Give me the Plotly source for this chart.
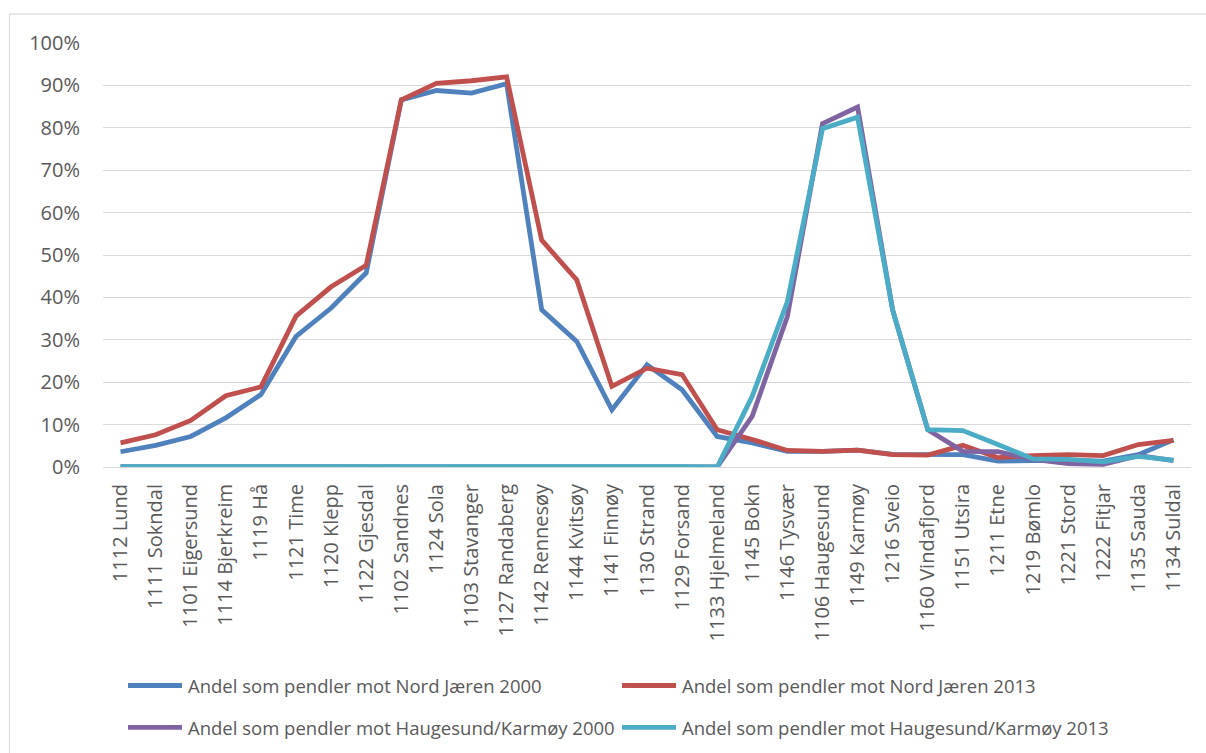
import plotly.graph_objects as go

# Municipalities along the category axis
kommuner = [
    "1112 Lund", "1111 Sokndal", "1101 Eigersund", "1114 Bjerkreim", "1119 Hå",
    "1121 Time", "1120 Klepp", "1122 Gjesdal", "1102 Sandnes", "1124 Sola",
    "1103 Stavanger", "1127 Randaberg", "1142 Rennesøy", "1144 Kvitsøy",
    "1141 Finnøy", "1130 Strand", "1129 Forsand", "1133 Hjelmeland",
    "1145 Bokn", "1146 Tysvær", "1106 Haugesund", "1149 Karmøy", "1216 Sveio",
    "1160 Vindafjord", "1151 Utsira", "1211 Etne", "1219 Bømlo", "1221 Stord",
    "1222 Fitjar", "1135 Sauda", "1134 Suldal",
]

# Share of commuters (%)
nord_jaeren_2000 = [3.6, 5.1, 7.2, 11.6, 17.1, 30.8, 37.5, 45.8, 86.6, 88.8,
                    88.2, 90.4, 37.1, 29.6, 13.5, 24.1, 18.2, 7.2, 5.7, 3.7,
                    3.7, 4.0, 3.0, 3.0, 2.9, 1.4, 1.6, 1.6, 1.4, 2.9, 6.4]
nord_jaeren_2013 = [5.7, 7.6, 11.0, 16.8, 18.9, 35.6, 42.5, 47.6, 86.6, 90.5,
                    91.1, 92.0, 53.5, 44.1, 19.0, 23.3, 21.8, 8.8, 6.5, 3.9,
                    3.7, 4.0, 2.9, 2.8, 5.1, 2.2, 2.7, 2.9, 2.7, 5.3, 6.3]
haugesund_2000 = [0.1, 0.1, 0.1, 0.0, 0.1, 0.1, 0.2, 0.2, 0.1, 0.1,
                  0.1, 0.1, 0.2, 0.2, 0.1, 0.2, 0.1, 0.0, 12.0, 35.5,
                  81.0, 84.9, 37.0, 8.8, 3.7, 3.6, 1.8, 0.8, 0.6, 2.7, 1.5]
haugesund_2013 = [0.1, 0.1, 0.1, 0.1, 0.1, 0.1, 0.1, 0.1, 0.1, 0.1,
                  0.1, 0.1, 0.2, 0.2, 0.1, 0.3, 0.1, 0.0, 16.7, 39.0,
                  79.8, 82.5, 37.0, 8.8, 8.6, 5.3, 1.9, 1.8, 1.2, 2.5, 1.6]

serier = [
    ("Andel som pendler mot Nord Jæren 2000", nord_jaeren_2000, "#4F81BD"),
    ("Andel som pendler mot Nord Jæren 2013", nord_jaeren_2013, "#C0504D"),
    ("Andel som pendler mot Haugesund/Karmøy 2000", haugesund_2000, "#8064A2"),
    ("Andel som pendler mot Haugesund/Karmøy 2013", haugesund_2013, "#4BACC6"),
]

W, H = 1206, 753
L, R, T, B = 103, 15, 42.5, 285.5
pw, ph = W - L - R, H - T - B


def px_x(px):
    return (px - L) / pw


def px_y(py):
    return (H - B - py) / ph


TEXT = "#595959"
GRID = "#D9D9D9"

fig = go.Figure()
for navn, verdier, farge in serier:
    fig.add_trace(go.Scatter(
        x=kommuner, y=verdier, mode="lines", name=navn,
        line=dict(color=farge, width=4.8), showlegend=False,
    ))

shapes = [
    # outer chart border
    dict(type="rect", xref="paper", yref="paper",
         x0=px_x(9.5), x1=px_x(1215), y0=px_y(765), y1=px_y(13.5),
         line=dict(color=GRID, width=1.2), fillcolor="rgba(0,0,0,0)", layer="below"),
]
annotations = []

# legend laid out in two rows and two columns
legend_pos = [(128, 182, 186, 686.5), (622, 676, 680, 686.5),
              (128, 182, 186, 728.5), (622, 676, 680, 728.5)]
for (navn, _, farge), (lx0, lx1, tx, ly) in zip(serier, legend_pos):
    shapes.append(dict(type="line", xref="paper", yref="paper",
                       x0=px_x(lx0), x1=px_x(lx1), y0=px_y(ly), y1=px_y(ly),
                       line=dict(color=farge, width=4.8)))
    annotations.append(dict(xref="paper", yref="paper", x=px_x(tx), y=px_y(ly),
                            text=navn, showarrow=False, xanchor="left",
                            yanchor="middle",
                            font=dict(family="Open Sans", size=18.5, color=TEXT)))

fig.update_layout(
    width=W, height=H,
    margin=dict(l=L, r=R, t=T, b=B),
    paper_bgcolor="white", plot_bgcolor="white",
    font=dict(family="Open Sans", color=TEXT),
    shapes=shapes, annotations=annotations,
    showlegend=False,
)
fig.update_xaxes(
    type="category", range=[-0.5, len(kommuner) - 0.5],
    tickangle=-90, tickfont=dict(size=20, color=TEXT),
    showgrid=False, showline=False, ticks="", ticklabelstandoff=12,
)
fig.update_yaxes(
    range=[0, 100], dtick=10, ticksuffix="%",
    tickfont=dict(size=20, color=TEXT),
    showgrid=True, gridcolor=GRID, gridwidth=1.2,
    zeroline=True, zerolinecolor=GRID, zerolinewidth=1.2,
    showline=False, ticks="", ticklabelstandoff=22,
)

fig.write_html("out.html")
